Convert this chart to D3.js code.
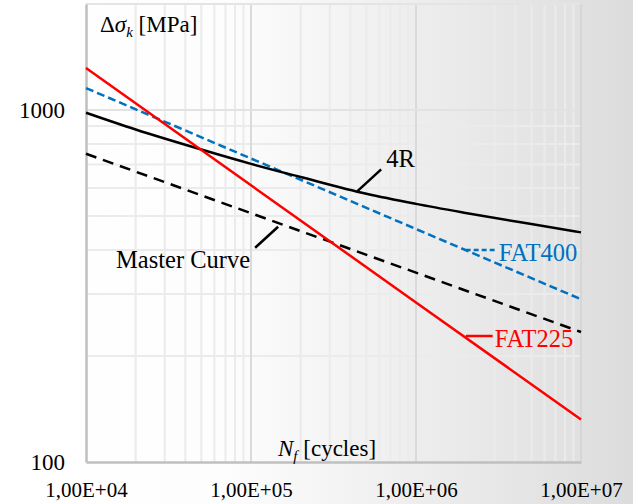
<!DOCTYPE html>
<html>
<head>
<meta charset="utf-8">
<script src="https://cdn.jsdelivr.net/npm/d3@7"></script>
<style>
  body { margin: 0; background: #fff; }
  svg { display: block; font-family: "Liberation Serif", "Times New Roman", serif; }
</style>
</head>
<body>
<div id="chart"></div>
<script>
// data
const cycleTicks = [1e4, 1e5, 1e6, 1e7];
const cycleTickLabels = ["1,00E+04", "1,00E+05", "1,00E+06", "1,00E+07"];
const stressTicks = [100, 1000];

const fourRCycles = [1e4, 2e4, 5e4, 1e5, 2e5, 5e5, 1e6, 2e6, 5e6, 1e7];
const fourRStress = [982, 880, 772, 703, 645, 578, 541, 510, 474, 449];

const lineCycles = [1e4, 1e5, 1e6, 1e7];
const fat400Stress = [1154, 728, 459, 290];
const fat225Stress = [1316, 611, 284, 132];
const masterStress = [751, 509, 345, 234];

let height = 504,
    width = 633,
    margin = ({ top: 4, right: 52, bottom: 42, left: 86 });

const svg = d3.select("#chart")
  .append("svg")
  .attr("width", width)
  .attr("height", height)
  .attr("viewBox", [0, 0, width, height]);

// soft grey gradient background
let grad = svg.append("defs").append("linearGradient")
  .attr("id", "bg")
  .attr("x1", "0%").attr("x2", "100%").attr("y1", "0%").attr("y2", "0%");
grad.append("stop").attr("offset", "0%").attr("stop-color", "#ffffff");
grad.append("stop").attr("offset", "35%").attr("stop-color", "#fdfdfd");
grad.append("stop").attr("offset", "100%").attr("stop-color", "#dcdcdc");

svg.append("rect")
  .attr("width", width)
  .attr("height", height)
  .attr("fill", "url(#bg)");

let x = d3.scaleLog()
  .domain([1e4, 1e7])
  .range([margin.left, width - margin.right]);

let y = d3.scaleLog()
  .domain([100, 2000])
  .range([height - margin.bottom, margin.top]);

// minor grid
let xMinor = x.ticks().filter(d => !cycleTicks.includes(d));
let yMinor = y.ticks().filter(d => !stressTicks.includes(d));

let grid = svg.append("g").attr("stroke-width", 2);

grid.selectAll(".vx")
  .data(xMinor)
  .join("line")
  .attr("x1", d => x(d)).attr("x2", d => x(d))
  .attr("y1", y(2000)).attr("y2", y(100))
  .attr("stroke", "#ebebeb");

grid.selectAll(".hy")
  .data(yMinor)
  .join("line")
  .attr("x1", x(1e4)).attr("x2", x(1e7))
  .attr("y1", d => y(d)).attr("y2", d => y(d))
  .attr("stroke", "#ebebeb");

grid.selectAll(".vmaj")
  .data(cycleTicks.slice(1, 3))
  .join("line")
  .attr("x1", d => x(d)).attr("x2", d => x(d))
  .attr("y1", y(2000)).attr("y2", y(100))
  .attr("stroke", "#dadada");

grid.append("line")
  .attr("x1", x(1e4)).attr("x2", x(1e7))
  .attr("y1", y(1000)).attr("y2", y(1000))
  .attr("stroke", "#e2e2e2");

// frame
svg.append("line")
  .attr("x1", x(1e4)).attr("x2", x(1e7))
  .attr("y1", y(2000)).attr("y2", y(2000))
  .attr("stroke", "#e4e4e4").attr("stroke-width", 2);
svg.append("line")
  .attr("x1", x(1e7)).attr("x2", x(1e7))
  .attr("y1", y(2000)).attr("y2", y(100))
  .attr("stroke", "#d6d6d6").attr("stroke-width", 2);

// axes
let xAxis = svg.append("g")
  .attr("transform", `translate(0,${y(100)})`)
  .call(d3.axisBottom(x)
    .tickValues(cycleTicks)
    .tickSize(0)
    .tickPadding(20)
    .tickFormat((d, i) => cycleTickLabels[i]));

let yAxis = svg.append("g")
  .attr("transform", `translate(${x(1e4)},0)`)
  .call(d3.axisLeft(y)
    .tickValues(stressTicks)
    .tickSize(0)
    .tickPadding(21)
    .tickFormat(d3.format("d")));

for (let g of [xAxis, yAxis]) {
  g.attr("font-family", null);
  g.select(".domain").attr("stroke", "#bfbfbf").attr("stroke-width", 2.5);
  g.selectAll("text").attr("fill", "#000");
}
xAxis.attr("font-size", 21);
yAxis.attr("font-size", 23);

// curves
let logLine = d3.line()
  .x(d => x(d[0]))
  .y(d => y(d[1]));

let series = [
  { name: "Master Curve", data: d3.zip(lineCycles, masterStress), color: "#000", dash: "11,7", curve: d3.curveLinear },
  { name: "FAT400", data: d3.zip(lineCycles, fat400Stress), color: "#0070c0", dash: "8,4", curve: d3.curveLinear },
  { name: "4R", data: d3.zip(fourRCycles, fourRStress), color: "#000", dash: null, curve: d3.curveMonotoneX },
  { name: "FAT225", data: d3.zip(lineCycles, fat225Stress), color: "#ff0000", dash: null, curve: d3.curveLinear }
];

let plot = svg.append("g");

for (let s of series) {
  plot.append("path")
    .datum(s.data)
    .attr("fill", "none")
    .attr("stroke", s.color)
    .attr("stroke-width", 2.5)
    .attr("stroke-dasharray", s.dash)
    .attr("d", logLine.curve(s.curve));
}

// labels with leader lines
let labels = [
  { text: "4R", at: [4.4e5, 587], dx: 24, dy: -22, tx: 29, ty: -24, anchor: "start", color: "#000", dash: null },
  { text: "Master Curve", at: [1.46e5, 466], dx: -23, dy: 21, tx: -28, ty: 41, anchor: "end", color: "#000", dash: null },
  { text: "FAT400", at: [2e6, 400], dx: 32, dy: 0, tx: 33, ty: 11, anchor: "start", color: "#0070c0", dash: "5,3" },
  { text: "FAT225", at: [2e6, 228], dx: 27, dy: 0, tx: 29, ty: 11, anchor: "start", color: "#ff0000", dash: null }
];

for (let l of labels) {
  let px = x(l.at[0]), py = y(l.at[1]);
  plot.append("line")
    .attr("x1", px).attr("y1", py)
    .attr("x2", px + l.dx).attr("y2", py + l.dy)
    .attr("stroke", l.color)
    .attr("stroke-width", 2.5)
    .attr("stroke-dasharray", l.dash);
  plot.append("text")
    .attr("x", px + l.tx)
    .attr("y", py + l.ty)
    .attr("text-anchor", l.anchor)
    .attr("font-size", 24.5)
    .attr("fill", l.color)
    .text(l.text);
}

// axis titles
let yTitle = svg.append("text")
  .attr("x", 100)
  .attr("y", 32)
  .attr("font-size", 23);
yTitle.append("tspan").text("Δ");
yTitle.append("tspan").attr("font-style", "italic").text("σ");
yTitle.append("tspan").attr("font-style", "italic").attr("font-size", 15).attr("dy", 5).text("k");
yTitle.append("tspan").attr("dy", -5).text(" [MPa]");

let xTitle = svg.append("text")
  .attr("x", 278)
  .attr("y", 456)
  .attr("font-size", 23);
xTitle.append("tspan").attr("font-style", "italic").text("N");
xTitle.append("tspan").attr("font-style", "italic").attr("font-size", 15).attr("dy", 5).text("f");
xTitle.append("tspan").attr("dy", -5).text(" [cycles]");
</script>
</body>
</html>
